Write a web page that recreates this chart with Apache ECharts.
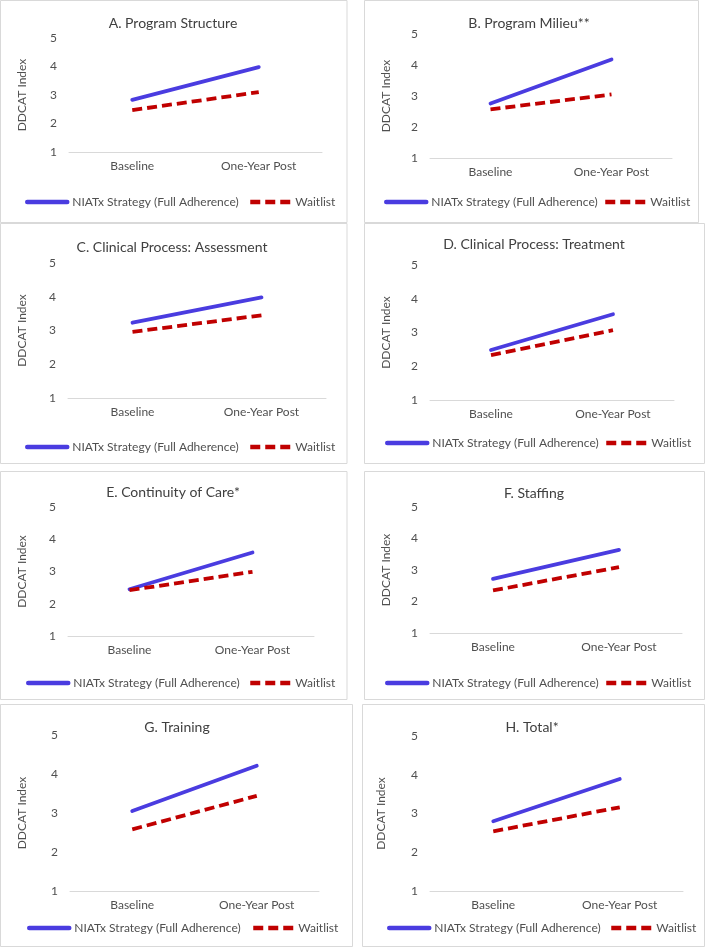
<!DOCTYPE html>
<html>
<head>
<meta charset="utf-8">
<script src="https://cdn.jsdelivr.net/npm/echarts@6/dist/echarts.min.js"></script>
<style>
html,body{margin:0;padding:0;background:#fff;}
#chart{width:709px;height:947px;}
</style>
</head>
<body>
<div id="chart"></div>
<script>
// ---- data ----
const categories = ['Baseline', 'One-Year Post'];
const panelTitles = ['A. Program Structure', 'B. Program Milieu**', 'C. Clinical Process: Assessment',
  'D. Clinical Process: Treatment', 'E. Continuity of Care*', 'F. Staffing', 'G. Training', 'H. Total*'];
const seriesNames = ['NIATx Strategy (Full Adherence)', 'Waitlist'];
const niatxBaseline   = [2.83, 2.76, 3.23, 2.48, 2.45, 2.72, 3.05, 2.80];
const niatxOneYear    = [3.98, 4.18, 3.98, 3.54, 3.59, 3.64, 4.21, 3.89];
const waitlistBaseline = [2.47, 2.57, 2.96, 2.33, 2.42, 2.35, 2.58, 2.54];
const waitlistOneYear  = [3.10, 3.05, 3.45, 3.07, 2.99, 3.09, 3.44, 3.16];
const yAxisName = 'DDCAT Index';

// ---- layout (positions only) ----
const layout = [
  {grid:[69,38,253,114],  title:[173,23],  box:[0.5,0.5,346.5,222],   leg:[25,248,203],  gap:41},
  {grid:[430,34,242,124], title:[529,23],  box:[364.5,0.5,334,222],   leg:[384,603,203], gap:38},
  {grid:[68,263,258,135], title:[172,247], box:[0.5,223.5,346.5,240], leg:[25,248,448],  gap:40},
  {grid:[430,265,244,135],title:[534,244], box:[364.5,223.5,340,240], leg:[385,604,444], gap:38},
  {grid:[68,507,246,129], title:[173,492], box:[0.5,471.5,346.5,228], leg:[26,248,684],  gap:40},
  {grid:[430,507,252,126],title:[534,493], box:[364.5,471.5,340,228], leg:[385,604,684], gap:38},
  {grid:[70,735,249,156], title:[177,727], box:[0.5,704.5,352,242],   leg:[27,251,929],  gap:42},
  {grid:[430,736,253,155],title:[532,727], box:[362.5,704.5,342,242], leg:[387,609,929], gap:43}
];

const FONT = 'Lato, "Open Sans", sans-serif';
const BLUE = '#4a3ce0';
const RED = '#c00000';
const TEXT = '#505050';

const grids = [], xAxes = [], yAxes = [], series = [], legends = [], graphics = [];
layout.forEach((p, i) => {
  grids.push({left:p.grid[0], top:p.grid[1], width:p.grid[2], height:p.grid[3], containLabel:false});
  xAxes.push({
    type:'category', gridIndex:i, data:categories, boundaryGap:true,
    axisLine:{show:true, lineStyle:{color:'#d9d9d9', width:1}},
    axisTick:{show:false},
    axisLabel:{margin:8, color:TEXT, fontSize:12, fontFamily:FONT},
    splitLine:{show:false}
  });
  yAxes.push({
    type:'value', gridIndex:i, min:1, max:5, interval:1,
    axisLine:{show:false}, axisTick:{show:false}, splitLine:{show:false},
    axisLabel:{margin:12, color:TEXT, fontSize:12, fontFamily:FONT},
    name:yAxisName, nameLocation:'middle', nameGap:p.gap,
    nameTextStyle:{color:TEXT, fontSize:12, fontFamily:FONT}
  });
  series.push({
    name:seriesNames[0], type:'line', xAxisIndex:i, yAxisIndex:i,
    data:[niatxBaseline[i], niatxOneYear[i]], symbol:'none', silent:true,
    lineStyle:{color:BLUE, width:3.8, cap:'round'}, itemStyle:{color:BLUE}
  });
  series.push({
    name:seriesNames[1], type:'line', xAxisIndex:i, yAxisIndex:i,
    data:[waitlistBaseline[i], waitlistOneYear[i]], symbol:'none', silent:true,
    lineStyle:{color:RED, width:3.8, type:[10,5]}, itemStyle:{color:RED}
  });
  [0,1].forEach(k => {
    legends.push({
      data:[seriesNames[k]], left:p.leg[k], top:p.leg[2]-7, padding:0,
      itemWidth:40, itemHeight:14, itemGap:0, selectedMode:false,
      itemStyle:{opacity:0, borderWidth:0},
      lineStyle:{width:4.5},
      textStyle:{color:TEXT, fontSize:12, fontFamily:FONT}
    });
  });
  graphics.push({
    type:'rect', shape:{x:p.box[0], y:p.box[1], width:p.box[2], height:p.box[3]},
    style:{fill:'none', stroke:'#d9d9d9', lineWidth:1}, silent:true, z:-1
  });
  graphics.push({
    type:'text', x:p.title[0], y:p.title[1],
    style:{text:panelTitles[i], fill:'#404040', font:'14px ' + FONT, align:'center', verticalAlign:'middle'},
    silent:true
  });
});

const chart = echarts.init(document.getElementById('chart'), null, {renderer:'canvas'});
chart.setOption({
  backgroundColor:'#ffffff',
  animation:false,
  grid:grids, xAxis:xAxes, yAxis:yAxes, series:series, legend:legends, graphic:graphics
});
</script>
</body>
</html>
